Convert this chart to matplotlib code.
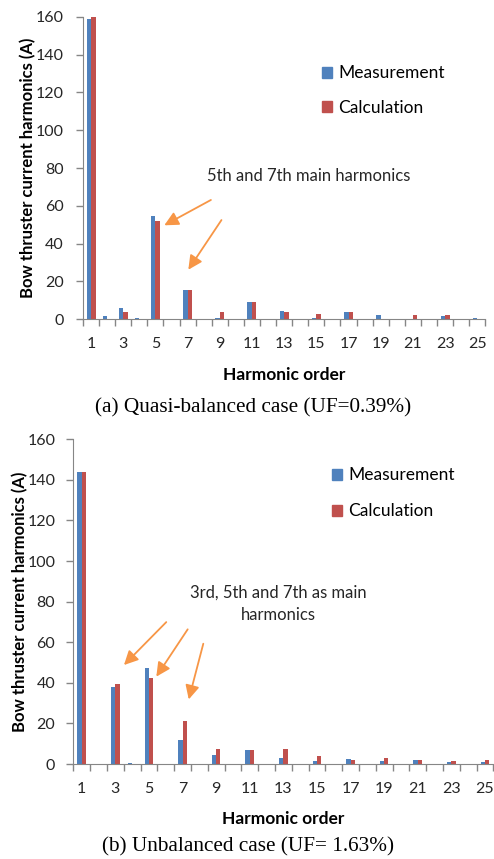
import matplotlib.pyplot as plt
import numpy as np
from matplotlib.patches import Patch

# Harmonic orders 1..25
orders = np.arange(1, 26)
tick_orders = orders[::2]

# (a) quasi-balanced case
meas_a = [159, 1.6, 5.8, 0.9, 54.7, 0, 15.4, 0, 0.9, 0, 9.2, 0, 4.4, 0, 0.9, 0,
          3.7, 0, 2.3, 0, 0, 0, 1.6, 0, 0.9]
calc_a = [160, 0, 3.7, 0, 52, 0, 15.4, 0, 3.7, 0, 9.2, 0, 3.7, 0, 3.0, 0,
          3.7, 0, 0, 0, 2.3, 0, 2.3, 0, 0]

# (b) unbalanced case
meas_b = [144, 0, 38, 0.7, 47.2, 0, 12, 0, 4.4, 0, 6.9, 0, 3.0, 0, 1.4, 0,
          2.5, 0, 1.4, 0, 1.9, 0, 0.8, 0, 0.8]
calc_b = [144, 0, 39.2, 0, 42.4, 0, 21, 0, 7.6, 0, 6.9, 0, 7.6, 0, 3.7, 0,
          1.9, 0, 3.2, 0, 1.9, 0, 1.4, 0, 2.0]

blue = '#4F81BD'
red = '#C0504D'
orange = '#F79646'
grey = '#868686'
text_col = '#262626'

plt.rcParams['font.family'] = 'Lato'

fig = plt.figure(figsize=(4.94, 8.59), dpi=100)
ax1 = fig.add_axes([83 / 494, 1 - 319.3 / 859, 402.3 / 494, 302.6 / 859])
ax2 = fig.add_axes([73.3 / 494, 1 - 764 / 859, 420 / 494, 324.7 / 859])


def draw_panel(ax, meas, calc, width, ypad, ylab_x):
    ax.bar(orders - width / 2, meas, width, color=blue, label='Measurement')
    ax.bar(orders + width / 2, calc, width, color=red, label='Calculation')
    ax.set_xlim(0.5, 25.5)
    ax.set_ylim(0, 160)
    ax.set_yticks(np.arange(0, 161, 20))
    ax.set_xticks(tick_orders)
    ax.set_xticks(np.arange(0.5, 26, 1), minor=True)
    ax.tick_params(axis='x', which='major', length=0, pad=13, labelsize=11.5,
                   labelcolor=text_col)
    ax.tick_params(axis='x', which='minor', length=5, color=grey, width=1)
    ax.tick_params(axis='y', length=5, color=grey, width=1, pad=ypad,
                   labelsize=11.5, labelcolor=text_col)
    for s in ['top', 'right']:
        ax.spines[s].set_visible(False)
    for s in ['left', 'bottom']:
        ax.spines[s].set_color(grey)
    ax.set_xlabel('Harmonic order', fontweight='bold', fontsize=12.5,
                  labelpad=11)
    ax.set_ylabel('Bow thruster current harmonics (A)', fontweight='bold',
                  fontsize=12)
    ax.yaxis.set_label_coords(ylab_x, 0.5)


draw_panel(ax1, meas_a, calc_a, 0.28, 9, -0.115)
draw_panel(ax2, meas_b, calc_b, 0.26, 8, -0.107)

handles = [Patch(color=blue), Patch(color=red)]
labels = ['Measurement', 'Calculation']
ax1.legend(handles, labels, loc='upper left', bbox_to_anchor=(0.572, 0.868),
           frameon=False, borderpad=0, handlelength=0.6, handleheight=0.6,
           handletextpad=0.35, labelspacing=1.08, fontsize=12.5)
ax2.legend(handles, labels, loc='upper left', bbox_to_anchor=(0.595, 0.94),
           frameon=False, borderpad=0, handlelength=0.6, handleheight=0.6,
           handletextpad=0.35, labelspacing=1.15, fontsize=12.5)

arrow = dict(arrowstyle='-|>', color=orange, lw=1.3, mutation_scale=21)

# main harmonics callouts
ax1.text(14.5, 76, '5th and 7th main harmonics', ha='center', va='center',
         fontsize=12, color=text_col)
ax1.annotate('', xy=(5.4, 49), xytext=(8.6, 63.8), arrowprops=arrow)
ax1.annotate('', xy=(6.95, 25), xytext=(9.2, 53.7), arrowprops=arrow)

ax2.text(12.7, 79, '3rd, 5th and 7th as main\nharmonics', ha='center',
         va='center', fontsize=12, color=text_col, linespacing=1.45)
ax2.annotate('', xy=(3.4, 47.8), xytext=(6.15, 70.9), arrowprops=arrow)
ax2.annotate('', xy=(5.35, 41.9), xytext=(7.4, 67.5), arrowprops=arrow)
ax2.annotate('', xy=(7.33, 30.5), xytext=(8.28, 60.6), arrowprops=arrow)

cap = dict(ha='center', va='center', fontsize=15.3, family='Liberation Serif')
fig.text(253 / 494, 1 - 408 / 859, '(a) Quasi-balanced case (UF=0.39%)', **cap)
fig.text(248 / 494, 1 - 847 / 859, '(b) Unbalanced case (UF= 1.63%)', **cap)

fig.savefig('out.png', dpi=100)
